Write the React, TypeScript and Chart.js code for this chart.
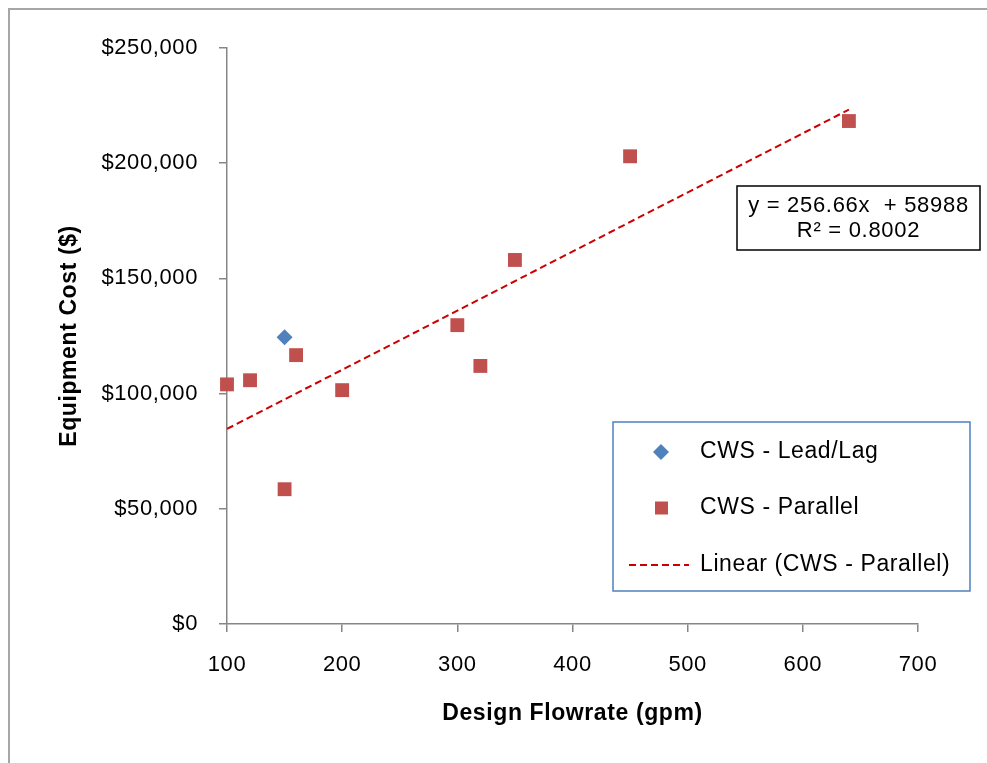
import React, { useEffect, useRef } from "react";
import { Chart, registerables } from "chart.js";

Chart.register(...registerables);

const leadLagFlow = [150];
const leadLagCost = [124500];

const parallelFlow = [100, 120, 150, 160, 200, 300, 320, 350, 450, 640];
const parallelCost = [104000, 105800, 58500, 116700, 101500, 129700, 112000, 158000, 203000, 218300];

const trendSlope = 256.66;
const trendIntercept = 58988;
const trendRange = [100, 640];

const xTicks = [100, 200, 300, 400, 500, 600, 700];
const yTicks = [0, 50000, 100000, 150000, 200000, 250000];

const legendLabels = ["CWS - Lead/Lag", "CWS - Parallel", "Linear (CWS - Parallel)"];
const equationLines = ["y = 256.66x  + 58988", "R² = 0.8002"];

const FONT = "'Liberation Sans', Arial, sans-serif";
const BLUE = "#4F81BD";
const RED = "#C0504D";
const TREND = "#CC0000";
const AXIS = "#868686";

const spacingPlugin = {
  id: "spacing",
  beforeDraw(chart: any) {
    chart.ctx.letterSpacing = "0.6px";
  },
};

const overlayPlugin = {
  id: "overlay",
  afterDraw(chart: any) {
    const ctx = chart.ctx;
    ctx.save();
    // equation box
    const ex = 737, ey = 186, ew = 243, eh = 64;
    ctx.fillStyle = "#ffffff";
    ctx.fillRect(ex, ey, ew, eh);
    ctx.strokeStyle = "#000000";
    ctx.lineWidth = 1.5;
    ctx.strokeRect(ex, ey, ew, eh);
    ctx.fillStyle = "#000000";
    ctx.letterSpacing = "0.7px";
    ctx.font = `22px ${FONT}`;
    ctx.textAlign = "center";
    ctx.textBaseline = "middle";
    ctx.fillText(equationLines[0], ex + ew / 2, 206);
    ctx.fillText(equationLines[1], ex + ew / 2, 231);

    // legend box
    const lx = 613, ly = 422, lw = 357, lh = 169;
    ctx.fillStyle = "#ffffff";
    ctx.fillRect(lx, ly, lw, lh);
    ctx.strokeStyle = BLUE;
    ctx.lineWidth = 1.5;
    ctx.strokeRect(lx, ly, lw, lh);

    const rows = [452, 508, 565];
    // diamond
    ctx.fillStyle = BLUE;
    ctx.beginPath();
    ctx.moveTo(661, rows[0] - 8);
    ctx.lineTo(669, rows[0]);
    ctx.lineTo(661, rows[0] + 8);
    ctx.lineTo(653, rows[0]);
    ctx.closePath();
    ctx.fill();
    // square
    ctx.fillStyle = RED;
    ctx.fillRect(655, rows[1] - 6.5, 13, 13);
    // dashed line
    ctx.strokeStyle = TREND;
    ctx.lineWidth = 2;
    ctx.setLineDash([7, 4]);
    ctx.beginPath();
    ctx.moveTo(629, rows[2]);
    ctx.lineTo(689, rows[2]);
    ctx.stroke();
    ctx.setLineDash([]);

    ctx.fillStyle = "#000000";
    ctx.letterSpacing = "0.6px";
    ctx.font = `23px ${FONT}`;
    ctx.textAlign = "left";
    ctx.textBaseline = "middle";
    legendLabels.forEach((t, i) => ctx.fillText(t, 700, rows[i]));
    ctx.restore();
  },
};

export default function App() {
  const ref = useRef<HTMLCanvasElement | null>(null);

  useEffect(() => {
    if (!ref.current) return;
    const trendData = trendRange.map((x) => ({ x, y: trendSlope * x + trendIntercept }));
    const chart = new Chart(ref.current, {
      type: "scatter",
      data: {
        datasets: [
          {
            label: legendLabels[2],
            type: "line",
            data: trendData,
            borderColor: TREND,
            borderWidth: 2,
            borderDash: [7, 4],
            pointRadius: 0,
            fill: false,
            order: 0,
            clip: false,
          } as any,
          {
            label: legendLabels[0],
            data: leadLagFlow.map((x, i) => ({ x, y: leadLagCost[i] })),
            pointStyle: "rectRot",
            pointRadius: 8,
            pointHoverRadius: 8,
            backgroundColor: BLUE,
            borderColor: BLUE,
            borderWidth: 0,
            order: 2,
            clip: false,
          } as any,
          {
            label: legendLabels[1],
            data: parallelFlow.map((x, i) => ({ x, y: parallelCost[i] })),
            pointStyle: "rect",
            pointRadius: 9.8,
            pointHoverRadius: 9.8,
            backgroundColor: RED,
            borderColor: RED,
            borderWidth: 0,
            order: 1,
            clip: false,
          } as any,
        ],
      },
      options: {
        animation: false,
        responsive: false,
        maintainAspectRatio: false,
        layout: { padding: { top: 48, right: 69, left: 0, bottom: 0 } },
        plugins: { legend: { display: false }, tooltip: { enabled: false } },
        scales: {
          x: {
            type: "linear",
            min: 100,
            max: 700,
            afterFit: (s: any) => {
              s.height = 139;
            },
            afterBuildTicks: (s: any) => {
              s.ticks = xTicks.map((v) => ({ value: v }));
            },
            ticks: {
              color: "#000000",
              font: { family: FONT, size: 22 },
              padding: 20,
              maxRotation: 0,
            },
            grid: { drawOnChartArea: false, drawTicks: true, tickLength: 8, color: AXIS, lineWidth: 1.5 },
            border: { color: AXIS, width: 1.5 },
            title: {
              display: true,
              text: "Design Flowrate (gpm)",
              color: "#000000",
              font: { family: FONT, size: 23, weight: "bold" },
              padding: { top: 0, bottom: 36 },
            },
          },
          y: {
            type: "linear",
            min: 0,
            max: 250000,
            afterFit: (s: any) => {
              s.width = 227;
            },
            afterBuildTicks: (s: any) => {
              s.ticks = yTicks.map((v) => ({ value: v }));
            },
            ticks: {
              color: "#000000",
              font: { family: FONT, size: 22 },
              padding: 21,
              callback: (v: any) => "$" + Number(v).toLocaleString("en-US"),
            },
            grid: { drawOnChartArea: false, drawTicks: true, tickLength: 8, color: AXIS, lineWidth: 1.5 },
            border: { color: AXIS, width: 1.5 },
            title: {
              display: true,
              text: "Equipment Cost ($)",
              color: "#000000",
              font: { family: FONT, size: 23, weight: "bold" },
              padding: { top: 56, bottom: 0 },
            },
          },
        },
      },
      plugins: [spacingPlugin, overlayPlugin],
    });
    return () => chart.destroy();
  }, []);

  return (
    <div style={{ position: "fixed", left: 0, top: 0, width: 987, height: 763, background: "#ffffff", overflow: "hidden" }}>
      <div
        style={{
          position: "absolute",
          left: 8,
          top: 8,
          width: 1000,
          height: 800,
          borderTop: "2px solid #a6a6a6",
          borderLeft: "2px solid #a6a6a6",
          boxSizing: "border-box",
        }}
      />
      <canvas ref={ref} width={987} height={763} style={{ position: "absolute", left: 0, top: 0, width: 987, height: 763 }} />
    </div>
  );
}
